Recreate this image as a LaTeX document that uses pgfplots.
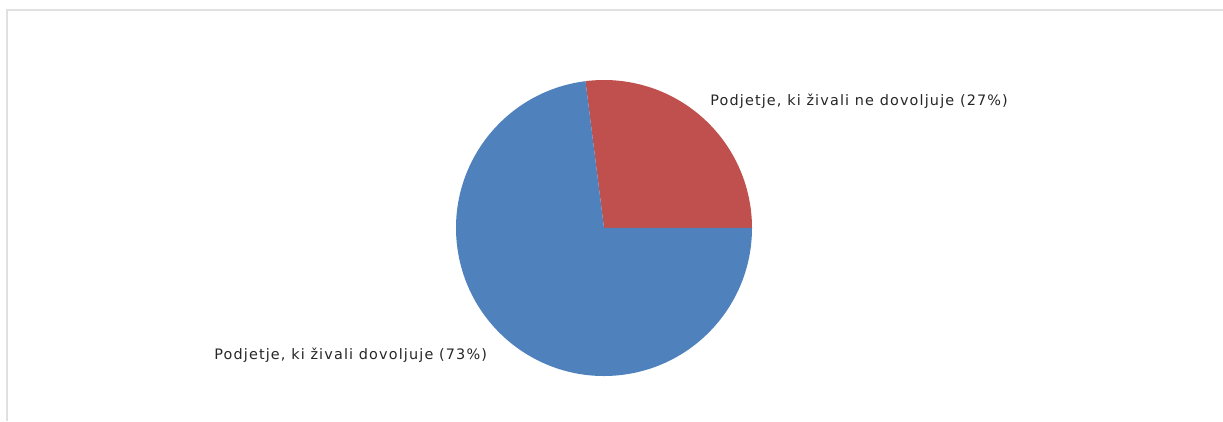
\documentclass[border=0pt]{standalone}
\usepackage{pgfplots}
\pgfplotsset{compat=1.18}
\usepackage{fontspec}
\setmainfont{DejaVu Sans}
\newfontfamily\lblfont[LetterSpace=8]{DejaVu Sans}
\definecolor{sliceblue}{HTML}{4F81BD}
\definecolor{slicered}{HTML}{C0504D}
\definecolor{framegray}{HTML}{E0E0E0}

% shares of the two slices (percent)
\def\shareRed{27}
\def\shareBlue{73}

\begin{document}
\begin{tikzpicture}
\begin{axis}[
    x=0.75pt, y=0.75pt,
    xmin=0, xmax=1223,
    ymin=0, ymax=421,
    hide axis,
    scale only axis,
    clip=false,
]
\pgfmathsetmacro{\angRed}{360*\shareRed/100}
\useasboundingbox (rel axis cs:0,0) rectangle (rel axis cs:1,1);
% frame
\draw[framegray, line width=1.5pt] (axis cs:7,0) -- (axis cs:7,411) -- (axis cs:1223,411);
% slices
\addplot[fill=slicered, draw=none] coordinates {(604,193)}
    -- ++(0:111pt) arc[start angle=0, end angle=\angRed, radius=111pt] -- cycle;
\addplot[fill=sliceblue, draw=none] coordinates {(604,193)}
    -- ++(\angRed:111pt) arc[start angle=\angRed, end angle=360, radius=111pt] -- cycle;
% labels
\node[anchor=west, font=\lblfont\fontsize{10.8}{12}\selectfont, text=black!85, inner sep=0pt]
    at (axis cs:710,320) {Podjetje, ki živali ne dovoljuje (\shareRed\%)};
\node[anchor=west, font=\lblfont\fontsize{10.8}{12}\selectfont, text=black!85, inner sep=0pt]
    at (axis cs:214,66) {Podjetje, ki živali dovoljuje (\shareBlue\%)};
\end{axis}
\end{tikzpicture}
\end{document}
